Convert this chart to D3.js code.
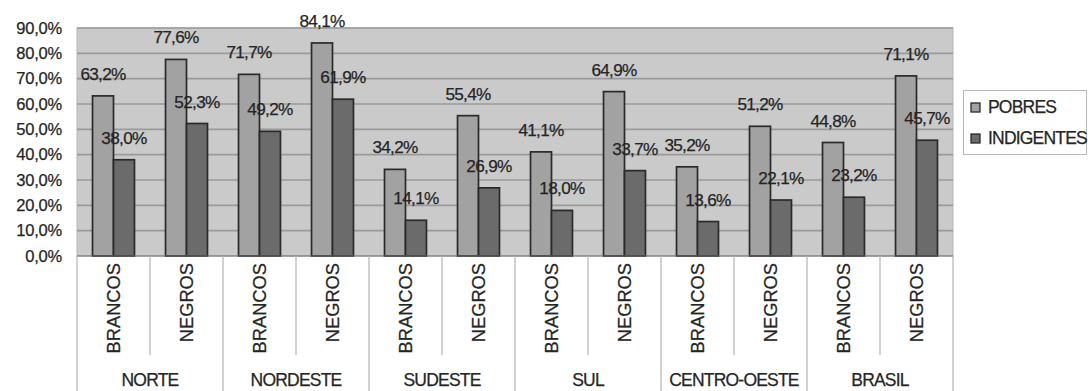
<!DOCTYPE html>
<html>
<head>
<meta charset="utf-8">
<script src="https://cdn.jsdelivr.net/npm/d3@7"></script>
<style>
  html, body { margin: 0; padding: 0; background: #fff; }
  svg { display: block; font-family: "Liberation Sans", Arial, sans-serif; }
</style>
</head>
<body>
<svg id="chart" width="1088" height="391"></svg>
<script>
const regions = ["NORTE", "NORDESTE", "SUDESTE", "SUL", "CENTRO-OESTE", "BRASIL"];
const races = ["BRANCOS", "NEGROS"];
const seriesNames = ["POBRES", "INDIGENTES"];
const pobres     = [63.2, 77.6, 71.7, 84.1, 34.2, 55.4, 41.1, 64.9, 35.2, 51.2, 44.8, 71.1];
const indigentes = [38.0, 52.3, 49.2, 61.9, 14.1, 26.9, 18.0, 33.7, 13.6, 22.1, 23.2, 45.7];
const yTicks = [0, 10, 20, 30, 40, 50, 60, 70, 80, 90];

(function () {
const svg = d3.select("#chart");
const pLeft = 77, pRight = 953, pTop = 28, pBottom = 256;
const textColor = "#252525";

const keys = [];
regions.forEach(r => races.forEach(c => keys.push(r + "|" + c)));
const rows = keys.map((k, i) => ({ key: k, region: k.split("|")[0], race: k.split("|")[1], values: [pobres[i], indigentes[i]] }));

const x0 = d3.scaleBand().domain(keys).range([pLeft, pRight]).paddingInner(0).paddingOuter(0);
const x1 = d3.scaleBand().domain(seriesNames).range([0, x0.bandwidth()]).paddingInner(0).paddingOuter(0.74);
const xg = d3.scaleBand().domain(regions).range([pLeft, pRight]);
const y = d3.scaleLinear().domain([0, 90]).range([pBottom, pTop]);
const fmt = v => d3.format(".1f")(v).replace(".", ",") + "%";
const colors = { POBRES: "#a2a2a2", INDIGENTES: "#6b6b6b" };

// plot background
svg.append("rect").attr("x", pLeft).attr("y", pTop).attr("width", pRight - pLeft).attr("height", pBottom - pTop)
  .attr("fill", "#cacaca").attr("stroke", "#b5b5b5").attr("stroke-width", 1);

// gridlines
svg.append("g").selectAll("line").data(yTicks.filter(t => t > 0)).join("line")
  .attr("x1", pLeft).attr("x2", pRight).attr("y1", d => y(d)).attr("y2", d => y(d))
  .attr("stroke", "#9a9a9a").attr("stroke-width", 1.7);

// y axis labels
const yAxis = d3.axisLeft(y).tickValues(yTicks).tickFormat(fmt).tickSize(0).tickPadding(15);
const ya = svg.append("g").attr("transform", `translate(${pLeft},0)`).call(yAxis);
ya.select(".domain").remove();
ya.selectAll("text").attr("font-size", 16.5).attr("letter-spacing", "-0.2px").attr("fill", textColor)
  .attr("stroke", textColor).attr("stroke-width", 0.25)
  .attr("font-family", "Liberation Sans, Arial, sans-serif");

// bars
const grp = svg.append("g").selectAll("g").data(rows).join("g")
  .attr("transform", d => `translate(${x0(d.key)},0)`);
grp.selectAll("rect").data(d => d.values.map((v, i) => ({ s: seriesNames[i], v }))).join("rect")
  .attr("x", d => x1(d.s)).attr("width", x1.bandwidth())
  .attr("y", d => y(d.v)).attr("height", d => y(0) - y(d.v))
  .attr("fill", d => colors[d.s]).attr("stroke", "#2a2a2a").attr("stroke-width", 1.7);

// baseline
svg.append("line").attr("x1", pLeft).attr("x2", pRight).attr("y1", pBottom).attr("y2", pBottom)
  .attr("stroke", "#6a6a6a").attr("stroke-width", 1.2);

// category separators
const sepColor = "#b4b4b4";
svg.append("g").selectAll("line").data(keys).join("line")
  .attr("x1", d => x0(d) + x0.bandwidth()).attr("x2", d => x0(d) + x0.bandwidth())
  .attr("y1", pBottom).attr("y2", (d, i) => (i % 2 === 1) ? 391 : 355)
  .attr("stroke", sepColor).attr("stroke-width", 1.2);
svg.append("line").attr("x1", pLeft).attr("x2", pLeft).attr("y1", pBottom).attr("y2", 391)
  .attr("stroke", sepColor).attr("stroke-width", 1.2);

// data labels
grp.selectAll("text.lbl").data(d => d.values.map((v, i) => ({ s: seriesNames[i], v }))).join("text")
  .attr("class", "lbl")
  .attr("x", d => x1(d.s) + x1.bandwidth() / 2).attr("y", d => y(d.v) - 16)
  .attr("text-anchor", "middle").attr("font-size", 17.2).attr("letter-spacing", "-0.7px")
  .attr("fill", textColor).attr("stroke", textColor).attr("stroke-width", 0.25).text(d => fmt(d.v));

// rotated race labels
svg.append("g").selectAll("text").data(rows).join("text")
  .attr("transform", d => `translate(${x0(d.key) + x0.bandwidth() / 2},263) rotate(-90)`)
  .attr("text-anchor", "end").attr("dy", "0.36em")
  .attr("font-size", 18.3).attr("fill", textColor).attr("stroke", textColor).attr("stroke-width", 0.25)
  .text(d => d.race);

// region labels
svg.append("g").selectAll("text").data(regions).join("text")
  .attr("x", d => xg(d) + xg.bandwidth() / 2).attr("y", 386)
  .attr("text-anchor", "middle").attr("font-size", 17.5).attr("letter-spacing", "-0.8px")
  .attr("fill", textColor).attr("stroke", textColor).attr("stroke-width", 0.25).text(d => d);

// legend
const lg = svg.append("g");
lg.append("rect").attr("x", 963.5).attr("y", 90.5).attr("width", 123).attr("height", 64)
  .attr("fill", "#fff").attr("stroke", "#b8b8b8").attr("stroke-width", 1);
const li = lg.selectAll("g").data(seriesNames).join("g")
  .attr("transform", (d, i) => `translate(971,${103 + i * 31})`);
li.append("rect").attr("width", 9).attr("height", 9)
  .attr("fill", d => colors[d]).attr("stroke", "#2a2a2a").attr("stroke-width", 1.3);
li.append("text").attr("x", 17).attr("y", 9.5).attr("font-size", 17.5).attr("letter-spacing", "-0.8px")
  .attr("fill", textColor).attr("stroke", textColor).attr("stroke-width", 0.25).text(d => d);
})();
</script>
</body>
</html>
